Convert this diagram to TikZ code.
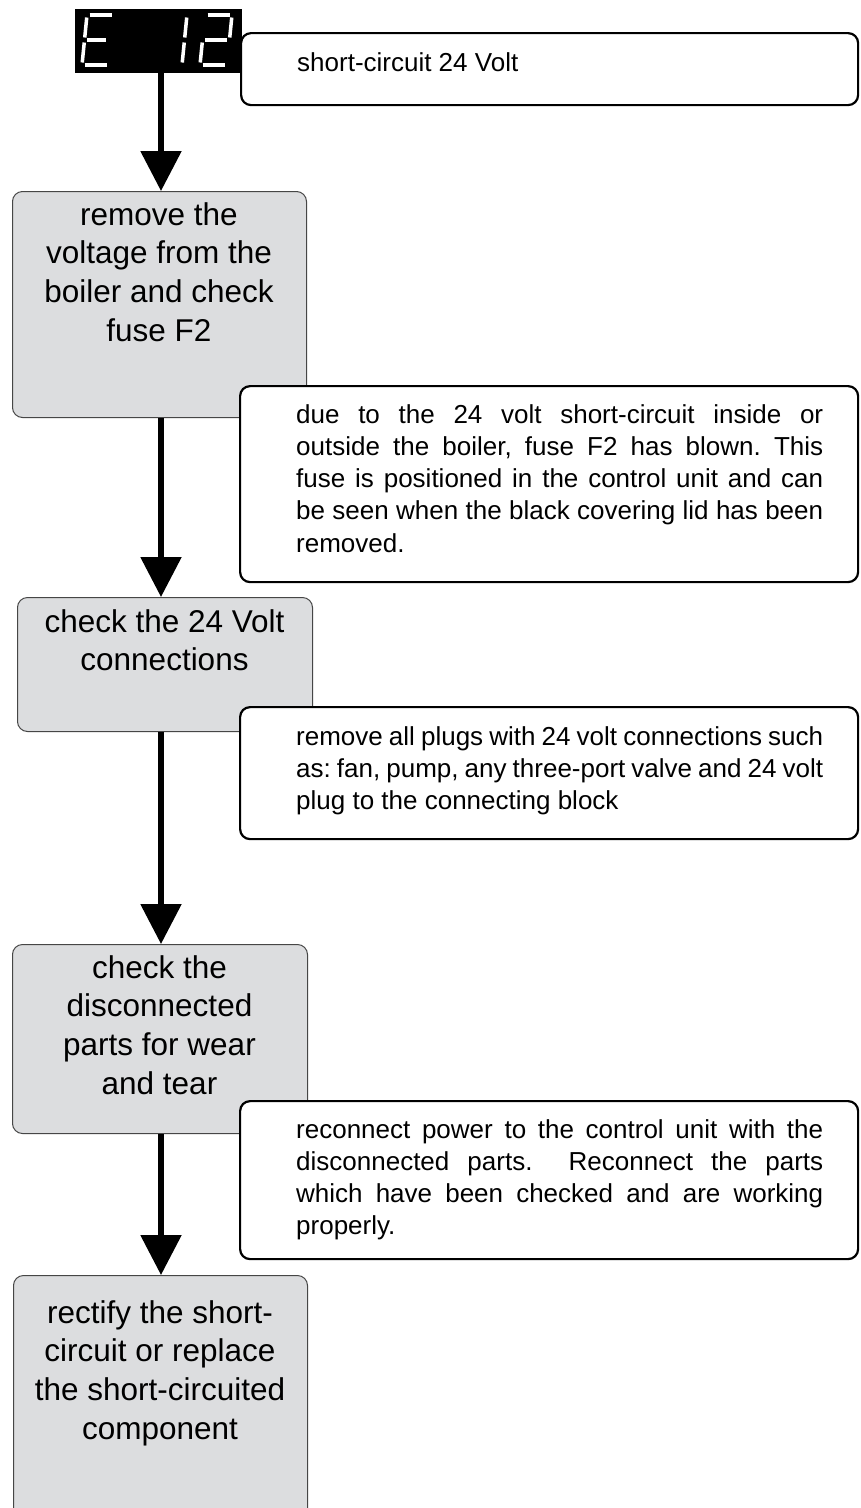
\documentclass[tikz,border=0pt]{standalone}
\usepackage{fontspec}
\setmainfont{Liberation Sans}
\usetikzlibrary{arrows.meta}
\definecolor{boxgray}{RGB}{220,221,223}
\definecolor{boxedge}{RGB}{70,70,70}
\newcommand\mysegdraw[5]{\draw[segstyle] ({#1+#2+0.1*#3},{65-#3}) -- ({#1+#4+0.1*#5},{65-#5});}
\newcommand\jline[1]{\makebox[527pt][s]{#1}}
\frenchspacing
\begin{document}
\begin{tikzpicture}[x=1pt,y=-1pt,
  graybox/.style={draw=boxedge, line width=1pt, fill=boxgray, rounded corners=10pt, inner sep=0pt, anchor=north west},
  notebox/.style={draw=black, line width=2.2pt, fill=white, rounded corners=10pt, inner sep=0pt, anchor=north west},
  graytext/.style={font=\fontsize{31.5}{38.8}\selectfont, align=center, anchor=base, inner sep=0pt},
  notetext/.style={font=\fontsize{26}{32.3}\selectfont, align=left, anchor=base west, inner sep=0pt},
  flow/.style={line width=5.5pt, -{Triangle[width=40pt,length=40pt]}},
  segstyle/.style={white, line width=3.5pt},
  display/.style={fill=black, inner sep=0pt, anchor=north west, minimum width=167pt, minimum height=64pt}
]
\clip (0,0) rectangle (861,1508);
\fill[white] (0,0) rectangle (861,1508);

% process boxes
\node[graybox, minimum width=294pt, minimum height=226pt] (b1) at (12,191) {};
\node[graybox, minimum width=295pt, minimum height=134pt] (b2) at (17,597) {};
\node[graybox, minimum width=295pt, minimum height=189pt] (b3) at (12,944) {};
\node[graybox, minimum width=294pt, minimum height=260pt] (b5) at (13,1275) {};

% (anchor = baseline of last line)
\node[graytext] (t1) at (159,341.4) {remove the\\voltage from the\\boiler and check\\fuse F2};
\node[graytext] (t2) at (164.5,670.8) {check the 24 Volt\\connections};
\node[graytext] (t3) at (159.5,1094.4) {check the\\disconnected\\parts for wear\\and tear};
\node[graytext] (t5) at (160,1439.4) {rectify the short-\\circuit or replace\\the short-circuited\\component};

% arrows
\coordinate (ax) at (161,0);
\node[display] (disp) at (75,9) {};
\draw[flow] (ax |- disp.south) -- (ax |- b1.north);
\draw[flow] (ax |- b1.south) -- (ax |- b2.north);
\draw[flow] (ax |- b2.south) -- (ax |- b3.north);
\draw[flow] (ax |- b3.south) -- (ax |- b5.north);

% seven segment "E 12"
\mysegdraw{82}{2.5}{50}{24.5}{50}
\mysegdraw{82}{2.5}{0}{24.5}{0}
\mysegdraw{82}{0}{2.5}{0}{22.5}
\mysegdraw{82}{0}{27.5}{0}{47.5}
\mysegdraw{82}{2.5}{25}{21}{25}
\mysegdraw{155}{27}{47.5}{27}{27.5}
\mysegdraw{155}{27}{22.5}{27}{2.5}
\mysegdraw{200}{2.5}{50}{24.5}{50}
\mysegdraw{200}{27}{47.5}{27}{27.5}
\mysegdraw{200}{2.5}{25}{24.5}{25}
\mysegdraw{200}{0}{2.5}{0}{22.5}
\mysegdraw{200}{2.5}{0}{24.5}{0}

% note boxes
\node[notebox, minimum width=617pt, minimum height=72pt] (n1) at (240,32) {};
\node[notebox, minimum width=618pt, minimum height=196pt] (n2) at (239,385) {};
\node[notebox, minimum width=618pt, minimum height=132pt] (n3) at (239,706) {};
\node[notebox, minimum width=618pt, minimum height=158pt] (n4) at (239,1100) {};

\node[notetext] (m1) at (297,71) {short-circuit 24 Volt};
\node[notetext] (m2) at (296,552.2) {\jline{due to the 24 volt short-circuit inside or}\\
\jline{outside the boiler, fuse F2 has blown. This}\\
\jline{fuse is positioned in the control unit and can}\\
\jline{be seen when the black covering lid has been}\\
removed.};
\node[notetext] (m3) at (296,809.6) {\jline{remove all plugs with 24 volt connections such}\\
\jline{as: fan, pump, any three-port valve and 24 volt}\\
plug to the connecting block};
\node[notetext] (m4) at (296,1234.9) {\jline{reconnect power to the control unit with the}\\
\jline{disconnected parts.\ \ Reconnect the parts}\\
\jline{which have been checked and are working}\\
properly.};
\end{tikzpicture}
\end{document}
